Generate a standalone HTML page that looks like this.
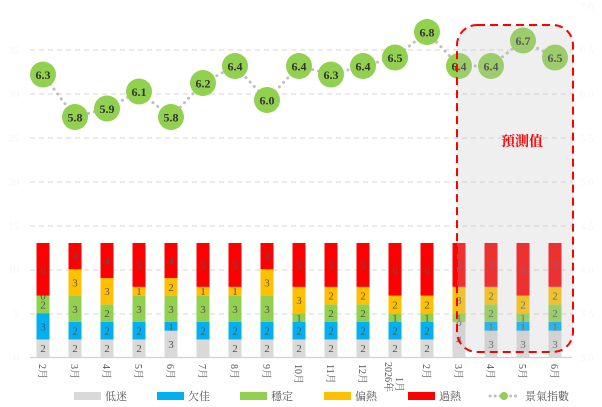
<!DOCTYPE html>
<html><head><meta charset="utf-8"><style>
html,body{margin:0;padding:0;background:#fff;width:602px;height:407px;overflow:hidden}
svg{display:block}
</style></head><body>
<svg id="c" width="602" height="407" viewBox="0 0 602 407" xmlns="http://www.w3.org/2000/svg"></svg>
<script>
const S='http://www.w3.org/2000/svg';const svg=document.getElementById('c');
function el(t,a,txt){const e=document.createElementNS(S,t);for(const k in a)e.setAttribute(k,a[k]);if(txt!==undefined)e.textContent=txt;svg.appendChild(e);return e;}
const FS='"Liberation Serif","Noto Serif CJK SC",serif';
const gy=[50,94,138,182,226,270,314];
gy.forEach(y=>el('line',{x1:30,x2:572,y1:y,y2:y,stroke:'#d4d4d4','stroke-dasharray':'5,4','stroke-width':1}));
el('line',{x1:30,x2:572,y1:357.5,y2:357.5,stroke:'#d0d0d0','stroke-width':1.2});
[0,5,10,15,20,25,30,35].forEach((v,i)=>el('text',{x:19,y:361-i*43.9,'text-anchor':'end','font-size':11,fill:'#f6f6f6','font-family':FS},v));
['3.0','3.5','4.0','4.5','5.0','5.5','6.0','6.5','7.0'].forEach((v,i)=>el('text',{x:580,y:361-i*43.9,'font-size':11,fill:'#f6f6f6','font-family':FS},v));
const data=[[2,3,2,0,6],[2,2,3,3,3],[2,2,2,3,4],[2,2,3,1,5],[3,1,3,2,4],[2,2,3,1,5],[2,2,3,1,5],[2,2,3,3,3],[2,2,1,3,5],[2,2,2,2,5],[2,2,2,2,5],[2,2,1,2,6],[2,2,1,2,6],[4,0,1,3,5],[3,1,2,2,5],[3,1,1,2,6],[3,1,2,2,5]];
const cols=['#d9d9d9','#00b0f0','#92d050','#ffc000','#ff0000'];
const labs=['2月','3月','4月','5月','6月','7月','8月','9月','10月','11月','12月','2026年|1月','2月','3月','4月','5月','6月'];
const u=8.77;
data.forEach((d,i)=>{const cx=43+i*32;let y=357;
 d.forEach((v,j)=>{const h=v*u;el('rect',{x:cx-6.5,y:y-h,width:13,height:h,fill:cols[j]});
  if(!(i==5&&j==0))el('text',{x:cx,y:y-h/2+4,'text-anchor':'middle','font-size':11,fill:'#555','font-family':FS},v);
  y-=h;});
 const L=labs[i].split('|');
 if(L.length==1){el('text',{x:0,y:0,transform:`translate(${cx-4},${364}) rotate(90)`,'font-size':10,fill:'#555','font-family':FS},L[0]);}
 else{el('text',{x:0,y:0,transform:`translate(${cx-10},${362}) rotate(90)`,'font-size':10,fill:'#555','font-family':FS},L[0]);
  el('text',{x:0,y:0,transform:`translate(${cx+1},${377}) rotate(90)`,'font-size':10,fill:'#555','font-family':FS},L[1]);}
});
const idx=[6.3,5.8,5.9,6.1,5.8,6.2,6.4,6.0,6.4,6.3,6.4,6.5,6.8,6.4,6.4,6.7,6.5];
const pts=idx.map((v,i)=>[43+i*32,117+(5.8-v)*85]);
el('polyline',{points:pts.map(p=>p.join(',')).join(' '),fill:'none',stroke:'#bfbfbf','stroke-width':3,'stroke-dasharray':'0.1,6','stroke-linecap':'round'});
pts.forEach((p,i)=>{el('circle',{cx:p[0],cy:p[1],r:13,fill:'#92d050'});
 el('text',{x:p[0],y:p[1]+4.5,'text-anchor':'middle','font-size':12,'font-weight':'bold',fill:'#333','font-family':FS},idx[i].toFixed(1));});
el('rect',{x:457,y:25,width:116,height:327,rx:20,ry:20,fill:'rgba(190,190,190,0.25)',stroke:'#ff0000','stroke-width':2,'stroke-dasharray':'8,5'});
el('text',{x:522,y:146,'text-anchor':'middle','font-size':14,'font-weight':'bold',fill:'#ff0000','font-family':FS},'預測值');
const lg=[[74,'低迷'],[157,'欠佳'],[240,'穩定'],[324,'偏熱'],[408,'過熱']];
lg.forEach((l,i)=>{el('rect',{x:l[0],y:392,width:27,height:8,fill:cols[i]});
 el('text',{x:l[0]+31,y:400,'font-size':11,fill:'#555','font-family':FS},l[1]);});
el('line',{x1:490,x2:518,y1:396,y2:396,stroke:'#bfbfbf','stroke-width':3,'stroke-dasharray':'0.1,5','stroke-linecap':'round'});
el('circle',{cx:504,cy:396,r:4,fill:'#92d050'});
el('text',{x:525,y:400,'font-size':11,fill:'#555','font-family':FS},'景氣指數');
</script>
</body></html>
